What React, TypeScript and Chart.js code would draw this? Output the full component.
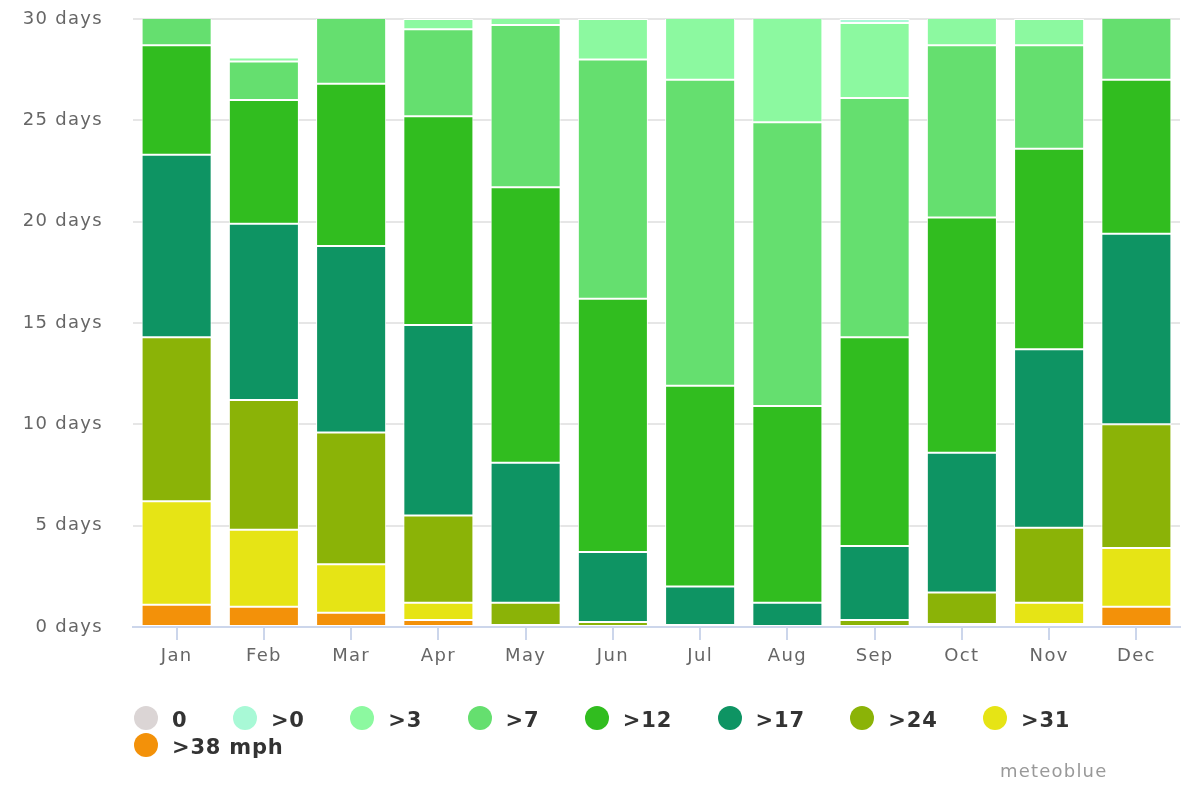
import React, { useEffect, useRef } from 'react';
import { Chart, registerables } from 'chart.js';

Chart.register(...registerables);

const MONTHS = ['Jan', 'Feb', 'Mar', 'Apr', 'May', 'Jun', 'Jul', 'Aug', 'Sep', 'Oct', 'Nov', 'Dec'];

// days per month in each wind-speed class (segment heights)
const CALM = [0, 0, 0, 0, 0, 0, 0, 0, 0, 0, 0, 0];
const OVER_0 = [0, 0, 0, 0, 0, 0, 0, 0, 0.2, 0, 0, 0];
const OVER_3 = [0, 0.2, 0, 0.5, 1.3, 2.0, 4.0, 6.1, 3.7, 2.3, 1.3, 0];
const OVER_7 = [2.3, 1.9, 4.2, 4.3, 8.0, 11.8, 15.1, 14.0, 11.8, 8.5, 5.1, 4.0];
const OVER_12 = [5.4, 6.1, 8.0, 10.3, 13.6, 12.5, 9.9, 9.7, 10.3, 11.6, 9.9, 7.6];
const OVER_17 = [9.0, 8.7, 9.2, 9.4, 6.9, 3.45, 1.9, 1.2, 3.65, 6.9, 8.8, 9.4];
const OVER_24 = [8.1, 6.4, 6.5, 4.3, 1.1, 0.25, 0.1, 0, 0.35, 1.55, 3.7, 6.1];
const OVER_31 = [5.1, 3.8, 2.4, 0.85, 0.1, 0, 0, 0, 0, 0.15, 1.05, 2.9];
const OVER_38 = [1.1, 1.0, 0.7, 0.35, 0, 0, 0, 0, 0, 0, 0.15, 1.0];

const SERIES_LABELS = ['0', '>0', '>3', '>7', '>12', '>17', '>24', '>31', '>38 mph'];
const SERIES_COLORS = ['#dbd5d5', '#a8f9d6', '#8cf9a0', '#65df6f', '#31bd1f', '#0e9463', '#8bb307', '#e6e415', '#f39109'];
const SERIES_VALUES = [CALM, OVER_0, OVER_3, OVER_7, OVER_12, OVER_17, OVER_24, OVER_31, OVER_38];

const Y_MAX = 30;
const Y_STEP = 5;

const SPACING = '1.3px';
const spacingPlugin = {
  id: 'letterSpacing',
  beforeUpdate(chart: any) { chart.ctx.letterSpacing = SPACING; },
  beforeLayout(chart: any) { chart.ctx.letterSpacing = SPACING; },
  beforeDraw(chart: any) { chart.ctx.letterSpacing = SPACING; },
};

export default function App() {
  const ref = useRef<HTMLCanvasElement>(null);

  useEffect(() => {
    if (!ref.current) return;
    // stack bottom-up: strongest wind class at the bottom
    const order = SERIES_LABELS.map((_, i) => i).reverse();
    const datasets = order.map((i) => ({
      label: SERIES_LABELS[i],
      data: SERIES_VALUES[i],
      backgroundColor: SERIES_COLORS[i],
      borderColor: '#ffffff',
      borderWidth: 1,
      borderSkipped: false as any,
      clip: 0,
      barPercentage: 0.803,
      categoryPercentage: 1.0,
    }));

    const chart = new Chart(ref.current, {
      type: 'bar',
      data: { labels: MONTHS, datasets },
      plugins: [spacingPlugin],
      options: {
        animation: false,
        responsive: true,
        maintainAspectRatio: false,
        events: [],
        layout: { padding: { top: 19, right: 20, bottom: 113, left: 0 } },
        plugins: {
          legend: { display: false },
          tooltip: { enabled: false },
        },
        scales: {
          x: {
            stacked: true,
            offset: true,
            afterFit: (s: any) => { s.height = 60; s.paddingTop = 0; s.paddingBottom = 0; },
            grid: {
              display: true,
              drawOnChartArea: false,
              drawTicks: true,
              tickLength: 13,
              color: '#ccd6eb',
              lineWidth: 2,
              offset: false,
            },
            border: { display: true, color: '#ccd6eb', width: 2 },
            ticks: {
              color: '#666666',
              padding: 6,
              font: { family: 'DejaVu Sans', size: 18 },
              maxRotation: 0,
            },
          },
          y: {
            stacked: true,
            min: 0,
            max: Y_MAX,
            afterFit: (s: any) => { s.width = 133; s.paddingTop = 0; s.paddingBottom = 0; },
            grid: { color: '#e6e6e6', lineWidth: 2, drawTicks: false },
            border: { display: false },
            ticks: {
              stepSize: Y_STEP,
              color: '#666666',
              padding: 30,
              font: { family: 'DejaVu Sans', size: 18 },
              callback: (v: any) => `${v} days`,
            },
          },
        },
      },
    });
    return () => chart.destroy();
  }, []);

  return (
    <div style={{ position: 'absolute', left: 0, top: 0, width: 1200, height: 800, background: '#ffffff', fontFamily: '"DejaVu Sans", sans-serif' }}>
      <div style={{ position: 'absolute', left: 0, top: 0, width: 1200, height: 800 }}>
        <canvas ref={ref} />
      </div>
      <div style={{ position: 'absolute', left: 134, top: 704.5, width: 1066, display: 'flex', flexWrap: 'wrap' }}>
        {SERIES_LABELS.map((lab, i) => (
          <div key={lab} style={{ display: 'flex', alignItems: 'center', height: 27, marginRight: 45.5 }}>
            <span style={{ display: 'inline-block', width: 24, height: 24, borderRadius: '50%', background: SERIES_COLORS[i] }} />
            <span style={{ marginLeft: 14, fontSize: 21, fontWeight: 'bold', color: '#333333', letterSpacing: '0.8px', lineHeight: '27px', position: 'relative', top: 2, whiteSpace: 'nowrap' }}>{lab}</span>
          </div>
        ))}
      </div>
      <div style={{ position: 'absolute', left: 1000, top: 760, fontSize: 18, lineHeight: '22px', letterSpacing: '1.2px', color: '#999999', whiteSpace: 'nowrap' }}>meteoblue</div>
    </div>
  );
}
